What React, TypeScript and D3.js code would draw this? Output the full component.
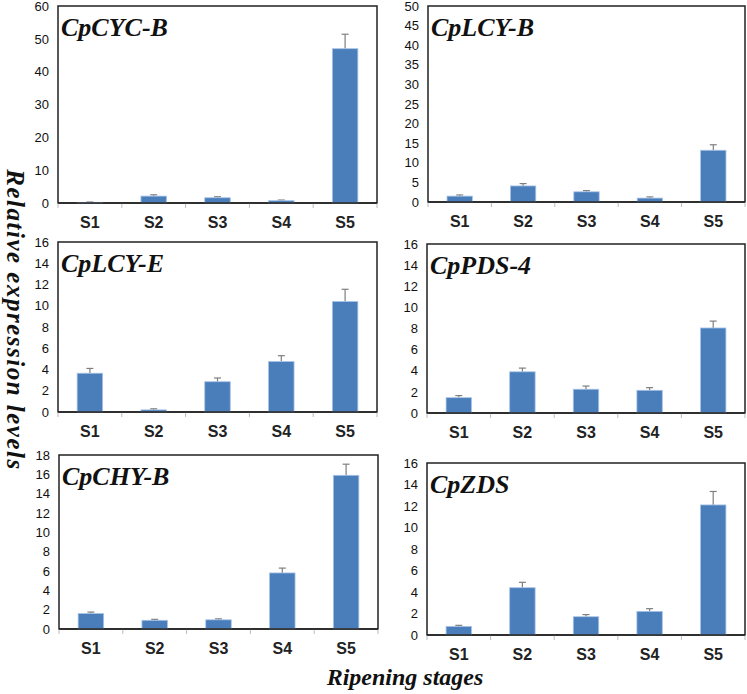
import React, { useEffect, useRef } from 'react';
import * as d3 from 'd3';

const stages = ['S1', 'S2', 'S3', 'S4', 'S5'];
const genes = ['CpCYC-B', 'CpLCY-B', 'CpLCY-E', 'CpPDS-4', 'CpCHY-B', 'CpZDS'];

// relative expression, mean and upper error per stage
const cycB = [0.2, 2.1, 1.6, 0.7, 47.0];
const cycBErr = [0.1, 0.4, 0.3, 0.2, 4.4];
const lcyB = [1.5, 4.1, 2.6, 1.0, 13.2];
const lcyBErr = [0.3, 0.6, 0.3, 0.3, 1.4];
const lcyE = [3.65, 0.2, 2.85, 4.75, 10.4];
const lcyEErr = [0.45, 0.1, 0.35, 0.55, 1.15];
const pds4 = [1.45, 3.9, 2.25, 2.15, 8.05];
const pds4Err = [0.2, 0.35, 0.3, 0.25, 0.65];
const chyB = [1.6, 0.9, 0.95, 5.8, 15.9];
const chyBErr = [0.15, 0.1, 0.1, 0.5, 1.15];
const zds = [0.8, 4.4, 1.7, 2.2, 12.1];
const zdsErr = [0.1, 0.5, 0.2, 0.25, 1.25];

const values = [cycB, lcyB, lcyE, pds4, chyB, zds];
const errors = [cycBErr, lcyBErr, lcyEErr, pds4Err, chyBErr, zdsErr];
const yMax = [60, 50, 16, 16, 18, 16];
const yStep = [10, 5, 2, 2, 2, 2];

// plot boxes: left, top, right, bottom
const boxes = [
  [58, 6, 377, 203],
  [428, 6, 745, 202],
  [58, 242, 377, 412],
  [427, 244, 745, 413],
  [59, 455, 378, 629],
  [427, 463, 745, 635],
];

const W = 747;
const H = 694;
const sans = 'Liberation Sans, Arial, sans-serif';
const serif = 'Liberation Serif, Times New Roman, serif';

const App = () => {
  const ref = useRef<SVGSVGElement>(null);

  useEffect(() => {
    const svg = d3.select(ref.current);
    svg.selectAll('*').remove();

    genes.forEach((gene, i) => {
      const [l, t, r, b] = boxes[i];
      const g = svg.append('g');

      const x = d3.scaleBand().domain(stages).range([l, r]).paddingInner(0.6).paddingOuter(0.3);
      const y = d3.scaleLinear().domain([0, yMax[i]]).range([b, t]);
      const step = x.step();

      g.append('rect')
        .attr('x', l).attr('y', t)
        .attr('width', r - l).attr('height', b - t)
        .attr('fill', 'white')
        .attr('stroke', '#222')
        .attr('stroke-width', 1.5);

      // y tick labels
      const yAxis = g.append('g')
        .attr('transform', `translate(${l},0)`)
        .call(d3.axisLeft(y).tickValues(d3.range(0, yMax[i] + 0.001, yStep[i])).tickSize(0).tickPadding(9));
      yAxis.select('.domain').remove();
      yAxis.selectAll('text')
        .attr('font-size', 13)
        .attr('font-family', sans)
        .attr('fill', '#111');

      // category boundary ticks
      g.append('g')
        .selectAll('line')
        .data(d3.range(0, stages.length + 1))
        .enter()
        .append('line')
        .attr('x1', d => l + d * step)
        .attr('x2', d => l + d * step)
        .attr('y1', b)
        .attr('y2', b + 5)
        .attr('stroke', '#bbb');

      g.append('g')
        .selectAll('text')
        .data(stages)
        .enter()
        .append('text')
        .attr('x', d => x(d)! + x.bandwidth() / 2)
        .attr('y', b + 25)
        .attr('text-anchor', 'middle')
        .attr('font-size', 16)
        .attr('font-weight', 'bold')
        .attr('font-family', sans)
        .attr('fill', '#222')
        .text(d => d);

      const rows = stages.map((s, k) => ({ s, v: values[i][k], e: errors[i][k] }));

      g.append('g')
        .selectAll('line')
        .data(rows)
        .enter()
        .append('line')
        .attr('x1', d => x(d.s)! + x.bandwidth() / 2)
        .attr('x2', d => x(d.s)! + x.bandwidth() / 2)
        .attr('y1', d => y(d.v))
        .attr('y2', d => y(d.v + d.e))
        .attr('stroke', '#7f7f7f')
        .attr('stroke-width', 1.2);

      g.append('g')
        .selectAll('line')
        .data(rows)
        .enter()
        .append('line')
        .attr('x1', d => x(d.s)! + x.bandwidth() / 2 - 3.5)
        .attr('x2', d => x(d.s)! + x.bandwidth() / 2 + 3.5)
        .attr('y1', d => y(d.v + d.e))
        .attr('y2', d => y(d.v + d.e))
        .attr('stroke', '#7f7f7f')
        .attr('stroke-width', 1.2);

      g.append('g')
        .selectAll('rect')
        .data(rows)
        .enter()
        .append('rect')
        .attr('x', d => x(d.s)!)
        .attr('y', d => y(d.v))
        .attr('width', x.bandwidth())
        .attr('height', d => b - y(d.v))
        .attr('fill', '#4a7ebb')
        .attr('stroke', '#a9c4e6')
        .attr('stroke-width', 0.8);

      g.append('line')
        .attr('x1', l).attr('x2', r)
        .attr('y1', b).attr('y2', b)
        .attr('stroke', '#222')
        .attr('stroke-width', 1.5);

      g.append('text')
        .attr('x', l + 3)
        .attr('y', t + 30)
        .attr('font-size', 26)
        .attr('font-family', serif)
        .attr('font-style', 'italic')
        .attr('font-weight', 'bold')
        .attr('fill', '#111')
        .text(gene);
    });

    svg.append('text')
      .attr('transform', 'translate(7,320) rotate(90)')
      .attr('text-anchor', 'middle')
      .attr('font-size', 25)
      .attr('letter-spacing', 1.5)
      .attr('font-family', serif)
      .attr('font-style', 'italic')
      .attr('font-weight', 'bold')
      .attr('fill', '#111')
      .text('Relative expression levels');

    svg.append('text')
      .attr('x', 405)
      .attr('y', 685)
      .attr('text-anchor', 'middle')
      .attr('font-size', 24)
      .attr('font-family', serif)
      .attr('font-style', 'italic')
      .attr('font-weight', 'bold')
      .attr('fill', '#111')
      .text('Ripening stages');
  }, []);

  return (
    <svg ref={ref} width={W} height={H} style={{ position: 'absolute', left: 0, top: 0, background: 'white' }}></svg>
  );
};

export default App;
